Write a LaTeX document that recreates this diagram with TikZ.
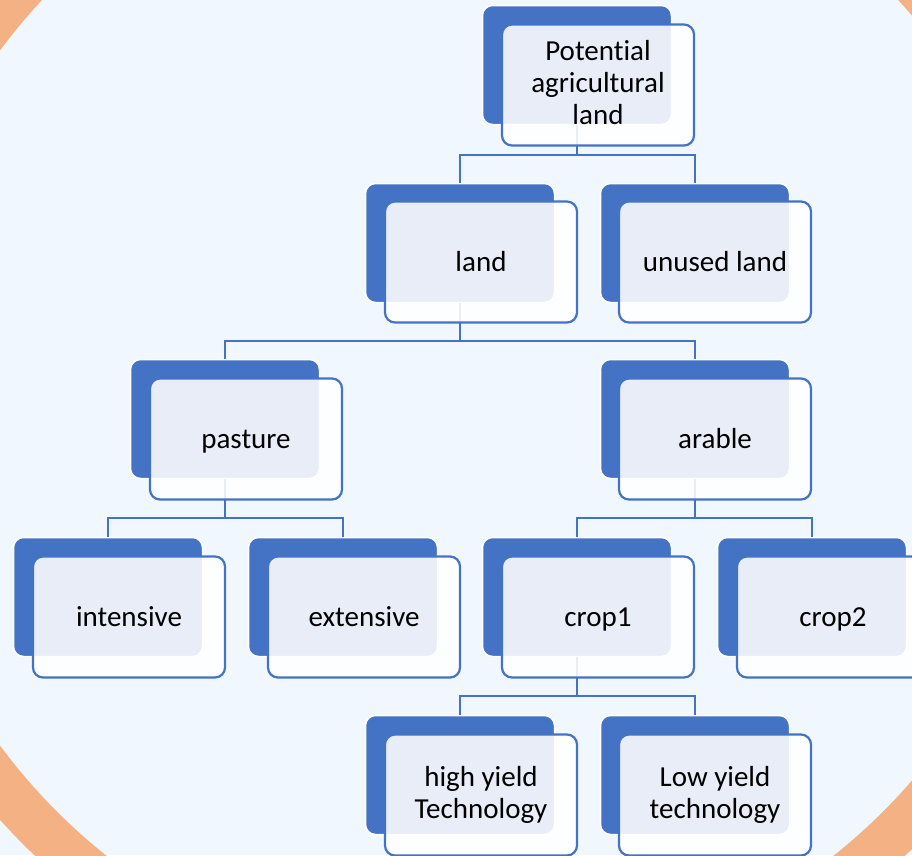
\documentclass[tikz,border=0pt]{standalone}
\usepackage{fontspec}
\setmainfont{Carlito}[Ligatures=NoCommon]
\usepackage{tikz}
\definecolor{boxblue}{RGB}{68,114,196}
\definecolor{bgblue}{RGB}{240,247,255}
\definecolor{ringorange}{RGB}{244,177,131}
\newcommand{\boxstrut}{\rule[-6pt]{0pt}{30pt}}
\tikzset{
	backbox/.style={draw=white,line width=1.5pt,fill=boxblue,rounded corners=10pt,minimum width=189pt,minimum height=119pt},
	frontbox/.style={draw=boxblue,line width=2.2pt,fill=white,fill opacity=0.88,text opacity=1,rounded corners=10pt,minimum width=192pt,minimum height=121pt,align=center,font=\fontsize{29}{32}\selectfont,execute at begin node=\boxstrut,execute at end node=\boxstrut},
	link/.style={draw,boxblue,line width=2.6pt}
}
\begin{document}
\begin{tikzpicture}[x=1pt,y=-1pt]

\fill[bgblue] (0,0) rectangle (912,855);
\useasboundingbox (0,0) rectangle (912,855);
\clip (0,0) rectangle (912,855);
\draw[ringorange,line width=47pt] (470,398) circle (608);

\coordinate (bus1) at (0,155);
\coordinate (bus2) at (0,341);
\coordinate (bus3) at (0,518);
\coordinate (bus4) at (0,696);

\node[backbox] (root-b) at (577,65) {};
\node[backbox] (land-b) at (460,243) {};
\node[backbox] (unused-b) at (695,243) {};
\node[backbox] (pasture-b) at (225,419) {};
\node[backbox] (arable-b) at (695,419) {};
\node[backbox] (intensive-b) at (108,597) {};
\node[backbox] (extensive-b) at (343,597) {};
\node[backbox] (crop1-b) at (577,597) {};
\node[backbox] (crop2-b) at (812,597) {};
\node[backbox] (high-b) at (460,775) {};
\node[backbox] (low-b) at (695,775) {};

% tree links
\draw[link] (root-b.south) -- (root-b.south |- bus1);
\draw[link] (land-b.north) |- (unused-b.north |- bus1) -- (unused-b.north);
\draw[link] (land-b.south) -- (land-b.south |- bus2);
\draw[link] (pasture-b.north) |- (arable-b.north |- bus2) -- (arable-b.north);
\draw[link] (pasture-b.south) -- (pasture-b.south |- bus3);
\draw[link] (intensive-b.north) |- (extensive-b.north |- bus3) -- (extensive-b.north);
\draw[link] (arable-b.south) -- (arable-b.south |- bus3);
\draw[link] (crop1-b.north) |- (crop2-b.north |- bus3) -- (crop2-b.north);
\draw[link] (crop1-b.south) -- (crop1-b.south |- bus4);
\draw[link] (high-b.north) |- (low-b.north |- bus4) -- (low-b.north);

\node[frontbox] (root) at (598,85) {Potential\\agricultural\\land};
\node[frontbox] (land) at (481,262) {land};
\node[frontbox] (unused) at (715,262) {unused land};
\node[frontbox] (pasture) at (246,439) {pasture};
\node[frontbox] (arable) at (715,439) {arable};
\node[frontbox] (intensive) at (129,617) {intensive};
\node[frontbox] (extensive) at (364,617) {extensive};
\node[frontbox] (crop1) at (598,617) {crop1};
\node[frontbox] (crop2) at (833,617) {crop2};
\node[frontbox] (high) at (481,795) {high yield\\Technology};
\node[frontbox] (low) at (715,795) {Low yield\\technology};

\end{tikzpicture}
\end{document}
